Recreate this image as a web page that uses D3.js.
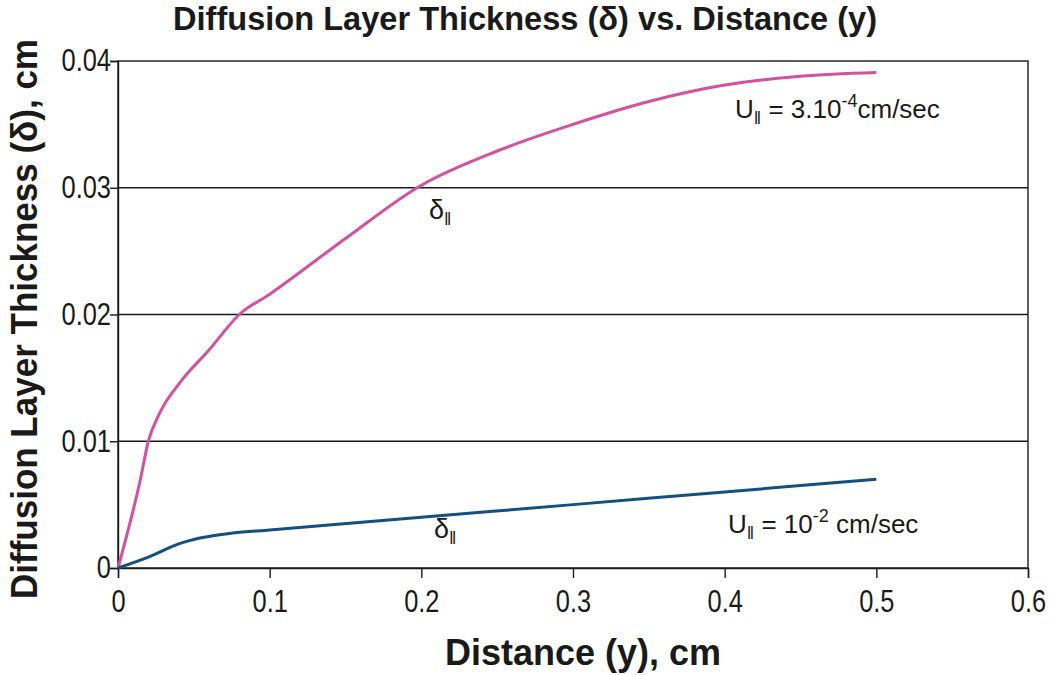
<!DOCTYPE html>
<html><head><meta charset="utf-8">
<script src="https://cdn.jsdelivr.net/npm/d3@7"></script>
<style>body{margin:0;background:#fff}svg{display:block}</style>
</head><body><svg id="c" width="1050" height="675"></svg>
<script>
const xTicks = [0, 0.1, 0.2, 0.3, 0.4, 0.5, 0.6];
const yTicks = [0, 0.01, 0.02, 0.03, 0.04];
const pinkX = [0, 0.0146, 0.02, 0.0274, 0.042, 0.06, 0.08, 0.1, 0.15, 0.2, 0.25, 0.3, 0.35, 0.4, 0.45, 0.5];
const pinkY = [0, 0.0069, 0.0100, 0.0122, 0.0148, 0.0172, 0.0200, 0.0216, 0.0260, 0.0302, 0.0329, 0.0350, 0.0368, 0.0381, 0.0388, 0.0391];
const blueX = [0, 0.0208, 0.04, 0.054, 0.0756, 0.1, 0.2, 0.3, 0.4, 0.5];
const blueY = [0, 0.0009, 0.0019, 0.00236, 0.00276, 0.0030, 0.0040, 0.0050, 0.0060, 0.0070];
const title = "Diffusion Layer Thickness (δ) vs. Distance (y)";
const xLabel = "Distance (y), cm";
const yLabel = "Diffusion Layer Thickness (δ), cm";

const svg = d3.select("#c");
const m = {l:118, r:22, t:61, b:107};
const W = 1050, H = 675;
const x = d3.scaleLinear().domain([0, 0.6]).range([m.l, W - m.r]);
const y = d3.scaleLinear().domain([0, 0.04]).range([H - m.b, m.t]);
const font = "'Liberation Sans',Arial,Helvetica,sans-serif";

function squish(sel, ratio) {
  sel.each(function() {
    const w = this.getComputedTextLength();
    d3.select(this).attr("textLength", w * ratio).attr("lengthAdjust", "spacingAndGlyphs");
  });
}

// gridlines
svg.append("g").selectAll("line").data(yTicks.filter(d => d > 0 && d < 0.04)).join("line")
  .attr("x1", m.l).attr("x2", W - m.r).attr("y1", d => y(d)).attr("y2", d => y(d))
  .attr("stroke", "#1a1a1a").attr("stroke-width", 1.4);
// frame
svg.append("rect").attr("x", m.l).attr("y", m.t).attr("width", W - m.r - m.l).attr("height", H - m.b - m.t)
  .attr("fill", "none").attr("stroke", "#1a1a1a").attr("stroke-width", 1.4);

// axes
const yAxis = svg.append("g").attr("transform", `translate(${m.l},0)`)
  .call(d3.axisLeft(y).tickValues(yTicks).tickFormat(d => d === 0 ? "0" : d3.format(".2f")(d)).tickSize(8).tickPadding(-1));
const xAxis = svg.append("g").attr("transform", `translate(0,${H - m.b})`)
  .call(d3.axisBottom(x).tickValues(xTicks).tickFormat(d => d === 0 ? "0" : d3.format(".1f")(d)).tickSize(10).tickPadding(12));
[xAxis, yAxis].forEach(a => {
  a.select(".domain").attr("stroke", "#1a1a1a").attr("stroke-width", 1.4);
  a.selectAll(".tick line").attr("stroke", "#1a1a1a").attr("stroke-width", 1.4);
  a.selectAll("text").attr("font-family", font).attr("font-size", 31).attr("fill", "#1a1a1a");
  squish(a.selectAll("text"), 0.82);
});

// curves
const line = d3.line().x(d => x(d[0])).y(d => y(d[1])).curve(d3.curveMonotoneX);
svg.append("path").attr("d", line(pinkX.map((v, i) => [v, pinkY[i]])))
  .attr("fill", "none").attr("stroke", "#d2529f").attr("stroke-width", 3);
svg.append("path").attr("d", line(blueX.map((v, i) => [v, blueY[i]])))
  .attr("fill", "none").attr("stroke", "#13507f").attr("stroke-width", 3);

// titles
svg.append("text").attr("x", 525).attr("y", 30).attr("text-anchor", "middle")
  .attr("font-family", font).attr("font-weight", "bold").attr("font-size", 33).attr("fill", "#1a1a1a")
  .attr("textLength", 704).attr("lengthAdjust", "spacingAndGlyphs").text(title);
svg.append("text").attr("x", 583).attr("y", 665).attr("text-anchor", "middle")
  .attr("font-family", font).attr("font-weight", "bold").attr("font-size", 36).attr("fill", "#1a1a1a")
  .attr("textLength", 276).attr("lengthAdjust", "spacingAndGlyphs").text(xLabel);
svg.append("text").attr("transform", "translate(37,319) rotate(-90)").attr("text-anchor", "middle")
  .attr("font-family", font).attr("font-weight", "bold").attr("font-size", 36).attr("fill", "#1a1a1a")
  .attr("textLength", 560).attr("lengthAdjust", "spacingAndGlyphs").text(yLabel);

// annotations
function ann(px, py, parts, base) {
  const t = svg.append("text").attr("x", px).attr("y", py).attr("font-family", font).attr("font-size", base).attr("fill", "#1a1a1a");
  let cur = 0;
  parts.forEach(p => {
    const dy = p.shift - cur; cur = p.shift;
    t.append("tspan").attr("dy", dy).attr("font-size", p.size || base).text(p.s);
  });
}
ann(735, 118, [{s:"U", shift:0}, {s:"‖", shift:6, size:18}, {s:" = 3.10", shift:0}, {s:"-4", shift:-11, size:18}, {s:"cm/sec", shift:0}], 26);
ann(728, 533, [{s:"U", shift:0}, {s:"‖", shift:6, size:18}, {s:" = 10", shift:0}, {s:"-2", shift:-11, size:18}, {s:" cm/sec", shift:0}], 26);
ann(429, 219, [{s:"δ", shift:0}, {s:"‖", shift:6, size:18}], 27);
ann(434, 538, [{s:"δ", shift:0}, {s:"‖", shift:6, size:18}], 27);
</script></body></html>
